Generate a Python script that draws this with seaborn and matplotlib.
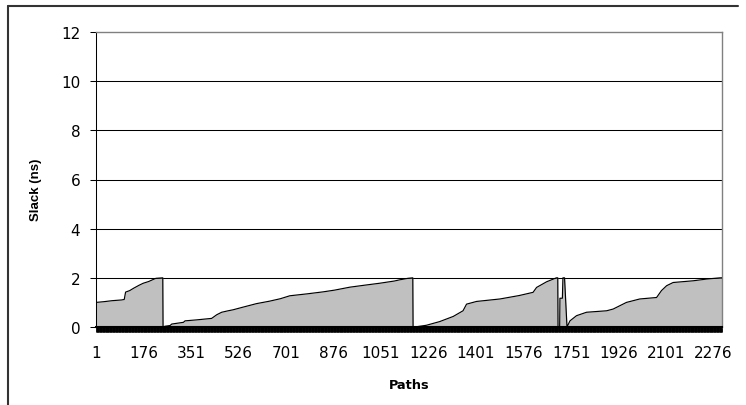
import numpy as np
import pandas as pd
import matplotlib
matplotlib.use("Agg")
import matplotlib.pyplot as plt
import seaborn as sns
from matplotlib.ticker import FixedLocator
from matplotlib.lines import Line2D

# ---- data (path index, slack in ns) ----
path_index = [1, 30, 60, 95, 105, 110, 125, 140, 160, 175, 195, 215, 222, 247,
              248, 255, 274, 280, 323, 329, 372, 427, 446, 464, 488, 506, 540, 592,
              640, 680, 715, 780, 838, 880, 936, 990, 1046, 1100, 1120, 1150, 1168,
              1169, 1181, 1218, 1267, 1317, 1353, 1366, 1403, 1489, 1560, 1611, 1624,
              1661, 1697, 1702,
              1703, 1709, 1710, 1719, 1721, 1727, 1736,
              1747, 1771, 1808, 1882, 1906, 1955, 2004, 2066, 2084, 2103, 2127, 2201,
              2250, 2300, 2307]
slack_ns = [1.00, 1.03, 1.07, 1.10, 1.12, 1.42, 1.48, 1.58, 1.70, 1.78, 1.85, 1.95, 1.98, 2.00,
            0.00, 0.03, 0.06, 0.12, 0.19, 0.25, 0.29, 0.35, 0.50, 0.60, 0.66, 0.70, 0.80, 0.95,
            1.05, 1.15, 1.27, 1.35, 1.43, 1.50, 1.62, 1.70, 1.78, 1.87, 1.92, 1.98, 2.00,
            0.00, 0.01, 0.07, 0.22, 0.43, 0.66, 0.93, 1.04, 1.14, 1.28, 1.41, 1.61,
            1.84, 2.00, 2.00,
            0.00, 0.00, 1.17, 1.17, 2.00, 2.00, 0.00,
            0.25, 0.46, 0.60, 0.66, 0.73, 1.00, 1.14, 1.20, 1.48, 1.68, 1.81, 1.88,
            1.95, 2.00, 2.00]
n_paths = 2307
x_tick_labels = [1, 176, 351, 526, 701, 876, 1051, 1226, 1401, 1576, 1751, 1926, 2101, 2276]
y_ticks = [0, 2, 4, 6, 8, 10, 12]

sns.set_style("white")
plt.rcParams['font.family'] = ['Liberation Sans', 'DejaVu Sans']
plt.rcParams['text.color'] = 'black'
plt.rcParams['axes.labelcolor'] = 'black'
plt.rcParams['xtick.color'] = 'black'
plt.rcParams['ytick.color'] = 'black'
matplotlib.ticker.Locator.MAXTICKS = 10000

W, H = 746, 406
fig = plt.figure(figsize=(W / 100, H / 100), dpi=100)
ax = fig.add_axes([96 / W, 1 - 328 / H, (722 - 96) / W, (328 - 33) / H])

df = pd.DataFrame({"Paths": path_index, "Slack": slack_ns})

for y in y_ticks[1:-1]:
    ax.axhline(y, color="black", lw=0.75, zorder=1)

ax.fill_between(df["Paths"], df["Slack"], 0, color="#C0C0C0", lw=0, zorder=2)
sns.lineplot(data=df, x="Paths", y="Slack", sort=False, estimator=None,
             color="black", lw=0.85, ax=ax, zorder=3)

ax.set_xlim(1, n_paths)
ax.set_ylim(0, 12)

tick_font = dict(family=["DejaVu Sans"], size=11, color="black")
ax.set_yticks(y_ticks)
ax.set_yticklabels([str(v) for v in y_ticks], fontdict=tick_font)
ax.set_xticks(x_tick_labels)
ax.set_xticklabels([str(v) for v in x_tick_labels], fontdict=tick_font)
ax.xaxis.set_minor_locator(FixedLocator(np.arange(1, n_paths + 1)))

ax.tick_params(axis="y", which="major", direction="out", length=4.3, width=0.75,
               color="black", labelcolor="black", pad=7, left=True)
ax.tick_params(axis="x", which="major", direction="out", length=3.6, width=0.5,
               color="black", labelcolor="black", pad=9.5, bottom=True)
ax.tick_params(axis="x", which="minor", direction="out", length=3.6, width=0.5,
               color="black", bottom=True)

for side in ["top", "right"]:
    ax.spines[side].set_color("#808080")
    ax.spines[side].set_linewidth(1.0)
ax.spines["left"].set_color("black")
ax.spines["left"].set_linewidth(0.75)
ax.spines["bottom"].set_color("black")
ax.spines["bottom"].set_linewidth(1.5)

ax.set_ylabel("Slack (ns)", fontsize=9.5, fontweight="bold", color="black")
ax.yaxis.set_label_coords(-0.0863, 0.468)
ax.set_xlabel("Paths", fontsize=9.3, fontweight="bold", family=["DejaVu Sans"], color="black")
ax.xaxis.set_label_coords(0.5, -0.173)

# outer chart-area frame (cut at right / bottom)
fig.add_artist(Line2D([8 / W, 738 / W], [1 - 7 / H, 1 - 7 / H], transform=fig.transFigure,
                      color="#333333", lw=1.5))
fig.add_artist(Line2D([8 / W, 8 / W], [1 - 7 / H, 0], transform=fig.transFigure,
                      color="#333333", lw=1.5))

fig.savefig("out.png", dpi=100)
